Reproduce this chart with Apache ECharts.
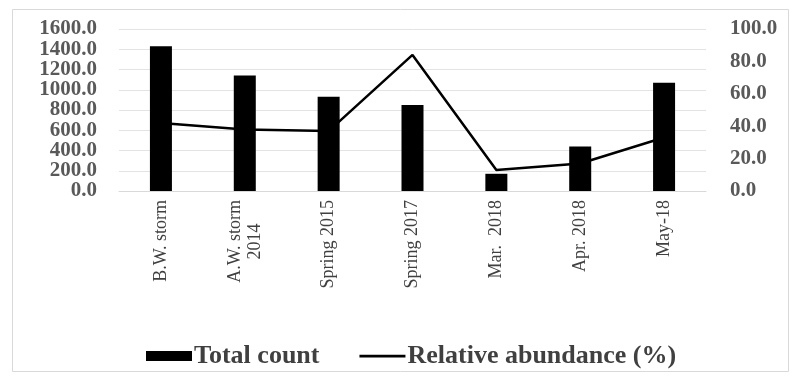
<!DOCTYPE html>
<html>
<head>
<meta charset="utf-8">
<script src="https://cdn.jsdelivr.net/npm/echarts@6/dist/echarts.min.js"></script>
<style>html,body{margin:0;padding:0;background:#fff}#c{width:790px;height:376px}</style>
</head>
<body>
<div id="c"></div>
<script>
const categories = ['B.W. storm', 'A.W. storm\n2014', 'Spring 2015', 'Spring 2017', 'Mar.  2018', 'Apr. 2018', 'May-18'];
const totalCount = [1430, 1140, 930, 850, 170, 440, 1070];
const relativeAbundance = [42, 38, 37, 84, 13, 17, 33];
const leftTicks = { min: 0, max: 1600, interval: 200 };
const rightTicks = { min: 0, max: 100, interval: 20 };
const leftTickLabels = ['0.0', '200.0', '400.0', '600.0', '800.0', '1000.0', '1200.0', '1400.0', '1600.0'];
const rightTickLabels = ['0.0', '20.0', '40.0', '60.0', '80.0', '100.0'];

const serif = '"Liberation Serif", "Times New Roman", serif';
const lineIcon = 'path://M0,0L0.02,0L0,0.02Z M46,10L45.98,10L46,9.98Z M0,3.8L46,3.8L46,6.4L0,6.4Z';
const tickLabelStyle = { fontFamily: serif, fontSize: 21, fontWeight: 'bold', color: '#595959', interval: 0 };
const chart = echarts.init(document.getElementById('c'));
chart.setOption({
  animation: false,
  backgroundColor: '#fff',
  graphic: [{
    type: 'rect', left: 10, top: 7, shape: { width: 776, height: 362 },
    style: { fill: 'none', stroke: '#d9d9d9', lineWidth: 1 }, silent: true
  }],
  grid: { left: 119, right: 84, top: 29, bottom: 185 },
  legend: {
    left: 141, top: 338,
    itemGap: 40, itemWidth: 46, itemHeight: 10,
    textStyle: { fontFamily: serif, fontSize: 26, fontWeight: 'bold', color: '#404040', padding: [0, 0, 0, -3] },
    data: [
      { name: 'Total count', icon: 'rect', itemStyle: { color: '#000' } },
      { name: 'Relative abundance (%)', icon: lineIcon, itemStyle: { color: '#000' } }
    ]
  },
  xAxis: {
    type: 'category',
    data: categories,
    axisLine: { show: true, lineStyle: { color: '#d9d9d9', width: 1 } },
    axisTick: { show: false },
    axisLabel: {
      rotate: 90, margin: 9, interval: 0,
      fontFamily: serif, fontSize: 18, color: '#404040', lineHeight: 20,
      formatter: function (v) {
        const parts = v.split('\n');
        if (parts.length === 1) return v;
        return parts[0] + '\n{c|' + parts[1] + '}';
      },
      rich: { c: { align: 'center', fontFamily: serif, fontSize: 18, color: '#404040', lineHeight: 20 } }
    }
  },
  yAxis: [{
    type: 'value', min: leftTicks.min, max: leftTicks.max, interval: leftTicks.interval,
    axisLine: { show: false }, axisTick: { show: false }, axisLabel: { show: false },
    splitLine: { lineStyle: { color: '#e3e3e3', width: 1 } }
  }, {
    type: 'value', position: 'right', min: rightTicks.min, max: rightTicks.max, interval: rightTicks.interval,
    axisLine: { show: false }, axisTick: { show: false }, axisLabel: { show: false }, splitLine: { show: false }
  }, {
    type: 'category', position: 'left', data: leftTickLabels, boundaryGap: false,
    axisLine: { show: false }, axisTick: { show: false }, splitLine: { show: false },
    axisLabel: Object.assign({ margin: 22 }, tickLabelStyle)
  }, {
    type: 'category', position: 'right', data: rightTickLabels, boundaryGap: false,
    axisLine: { show: false }, axisTick: { show: false }, splitLine: { show: false },
    axisLabel: Object.assign({ margin: 24 }, tickLabelStyle)
  }],
  series: [{
    name: 'Total count', type: 'bar', data: totalCount, yAxisIndex: 0,
    barWidth: 22, itemStyle: { color: '#000' }
  }, {
    name: 'Relative abundance (%)', type: 'line', data: relativeAbundance, yAxisIndex: 1,
    symbol: 'none', lineStyle: { color: '#000', width: 2.5 }, itemStyle: { color: '#000' }
  }]
});
</script>
</body>
</html>
